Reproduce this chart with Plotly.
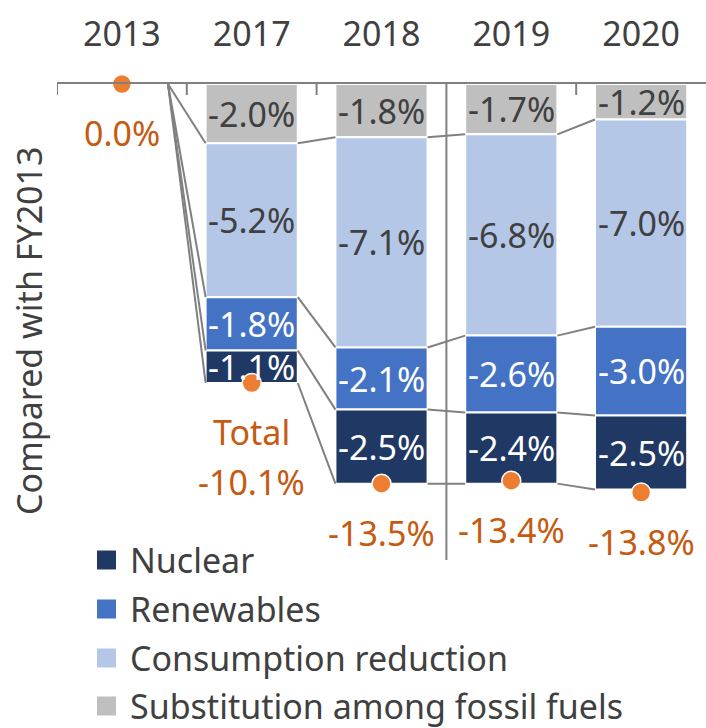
import plotly.graph_objects as go

# ---- data ----
years = ["2013", "2017", "2018", "2019", "2020"]
bar_years = ["2017", "2018", "2019", "2020"]
substitution = [-2.0, -1.8, -1.7, -1.2]
consumption = [-5.2, -7.1, -6.8, -7.0]
renewables = [-1.8, -2.1, -2.6, -3.0]
nuclear = [-1.1, -2.5, -2.4, -2.5]
totals = [0.0, -10.1, -13.5, -13.4, -13.8]
legend_names = ["Nuclear", "Renewables", "Consumption reduction", "Substitution among fossil fuels"]
y_title = "Compared with FY2013"
total_word = "Total"

# ---- styling ----
FONT = "Noto Sans"
FS = 34
TXT = "#404040"
ORANGE = "#ED7D31"
ORANGE_TXT = "#C55A11"
GRAY_LINE = "#808080"
colors = {
    "Nuclear": "#1F3864",
    "Renewables": "#4472C4",
    "Consumption reduction": "#B4C7E7",
    "Substitution among fossil fuels": "#BFBFBF",
}
label_colors = {
    "Nuclear": "white",
    "Renewables": "white",
    "Consumption reduction": TXT,
    "Substitution among fossil fuels": TXT,
}
# stack order from zero downward
stack = [
    ("Substitution among fossil fuels", substitution),
    ("Consumption reduction", consumption),
    ("Renewables", renewables),
    ("Nuclear", nuclear),
]

xpos = list(range(len(years)))
bar_x = [years.index(y) for y in bar_years]
BW = 0.71
HW = BW / 2

fig = go.Figure()

# cumulative boundaries per category (2013 all zero)
cum = {0: [0.0] * len(stack)}
for j, xi in enumerate(bar_x):
    s = 0.0
    c = []
    for name, vals in stack:
        s += vals[j]
        c.append(round(s, 4))
    cum[xi] = c

# connectors
cx, cy = [], []
for i in range(len(years) - 1):
    for k in range(len(stack)):
        cx += [i + HW, i + 1 - HW, None]
        cy += [cum[i][k], cum[i + 1][k], None]
fig.add_trace(go.Scatter(x=cx, y=cy, mode="lines", line=dict(color=GRAY_LINE, width=2),
                         showlegend=False, hoverinfo="skip", cliponaxis=False))

annotations = []
for name, vals in stack:
    fig.add_trace(go.Bar(x=bar_x, y=vals, name=name, width=BW,
                         marker=dict(color=colors[name], line=dict(color="white", width=2)),
                         showlegend=False))

# segment labels
for j, xi in enumerate(bar_x):
    base = 0.0
    for name, vals in stack:
        v = vals[j]
        annotations.append(dict(x=xi, y=base + v / 2, xref="x", yref="y", text=f"{v:.1f}%",
                                showarrow=False, font=dict(family=FONT, size=FS, color=label_colors[name]),
                                xanchor="center", yanchor="middle"))
        base += v

# total dots
fig.add_trace(go.Scatter(x=xpos, y=totals, mode="markers",
                         marker=dict(color=ORANGE, size=19, line=dict(color="white", width=1.5)),
                         showlegend=False, cliponaxis=False))

for i, t in enumerate(totals):
    shift = -49
    if i == 1:
        annotations.append(dict(x=i, y=t, xref="x", yref="y", text=total_word, showarrow=False,
                                font=dict(family=FONT, size=FS, color=ORANGE_TXT),
                                xanchor="center", yanchor="middle", yshift=shift))
        shift = -99
    annotations.append(dict(x=i, y=t, xref="x", yref="y", text=f"{t:.1f}%", showarrow=False,
                            font=dict(family=FONT, size=FS, color=ORANGE_TXT),
                            xanchor="center", yanchor="middle", yshift=shift))

# y title
W, H = 706, 728
ML, MR, MT, MB = 57, 0, 84, 168
PW, PH = W - ML - MR, H - MT - MB
annotations.append(dict(x=0, y=(H - MB - 331) / PH, xref="paper", yref="paper", text=y_title,
                        textangle=-90, showarrow=False, xshift=29 - ML,
                        font=dict(family=FONT, size=FS, color=TXT), xanchor="center", yanchor="middle"))

shapes = []
# vertical separator between 2018 and 2019
shapes.append(dict(type="line", xref="x", yref="paper", x0=2.5, x1=2.5, y0=0, y1=1,
                   line=dict(color=GRAY_LINE, width=2)))
# category boundary ticks
for b in [-0.5, 0.5, 1.5, 3.5]:
    shapes.append(dict(type="line", xref="x", yref="paper", x0=b, x1=b, y0=1, y1=1 - 11 / PH,
                       line=dict(color=GRAY_LINE, width=2)))

# manual legend
legend_rows_px = [560, 609, 658, 706]
for name, ypx in zip(legend_names, legend_rows_px):
    shapes.append(dict(type="rect", xref="paper", yref="paper",
                       x0=(97 - ML) / PW, x1=(116 - ML) / PW,
                       y0=(H - MB - (ypx + 9.5)) / PH, y1=(H - MB - (ypx - 9.5)) / PH,
                       fillcolor=colors[name], line=dict(width=0)))
    annotations.append(dict(x=(128 - ML) / PW, y=(H - MB - ypx) / PH, xref="paper", yref="paper",
                            text=name, showarrow=False, xanchor="left", yanchor="middle",
                            font=dict(family=FONT, size=FS, color=TXT)))

fig.update_layout(
    width=W, height=H, margin=dict(l=ML, r=MR, t=MT, b=MB, autoexpand=False),
    barmode="relative", plot_bgcolor="white", paper_bgcolor="white",
    font=dict(family=FONT, size=FS, color=TXT),
    showlegend=False,
    annotations=annotations, shapes=shapes,
    xaxis=dict(range=[-0.5, 4.5], side="top", tickmode="array", tickvals=xpos, ticktext=years,
               showline=True, linecolor=GRAY_LINE, linewidth=2, ticks="", showgrid=False,
               zeroline=False, automargin=False, ticklabelstandoff=22,
               tickfont=dict(family=FONT, size=FS, color=TXT)),
    yaxis=dict(range=[-16.08, 0], showticklabels=False, showgrid=False, zeroline=False,
               showline=False, ticks="", automargin=False),
)

fig.write_html("out.html", config={"displayModeBar": False},
               post_script="document.body.style.margin='0';document.body.style.overflow='hidden';")
